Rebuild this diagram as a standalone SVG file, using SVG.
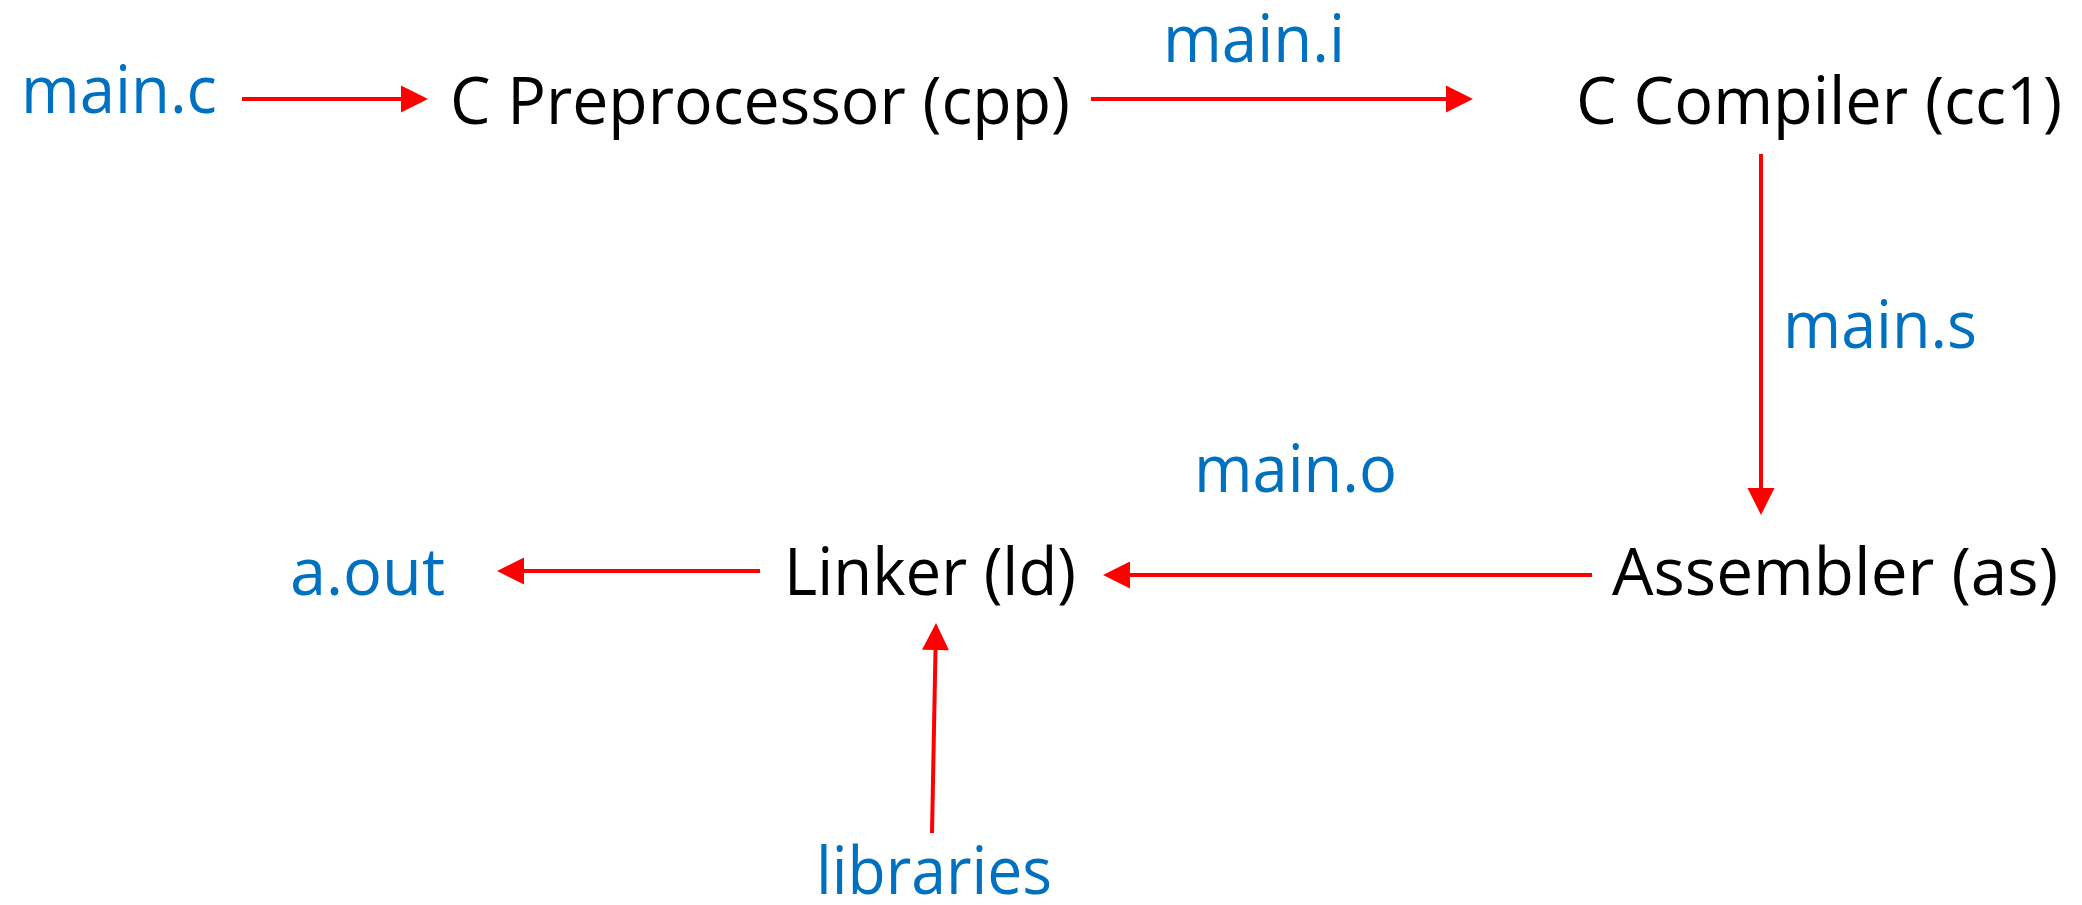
<svg xmlns="http://www.w3.org/2000/svg" width="2082" height="905" viewBox="0 0 2082 905">
<style>
text{font-family:"Open Sans","Liberation Sans",sans-serif;font-size:66px}
.lbl{fill:#0070C0}
.node{fill:#000}
.conn{stroke:#FF0000;stroke-width:4;fill:none;marker-end:url(#ah)}
</style>
<defs>
<marker id="ah" markerUnits="userSpaceOnUse" markerWidth="28" markerHeight="28" refX="0" refY="13.5" orient="auto" overflow="visible">
<path d="M0,0 L27,13.5 L0,27 Z" fill="#FF0000"/>
</marker>
</defs>
<rect width="2082" height="905" fill="#fff"/>
<g id="connectors">
<line class="conn" x1="242" y1="99" x2="401" y2="99"/>
<line class="conn" x1="1091" y1="99" x2="1446" y2="99"/>
<line class="conn" x1="1761" y1="154" x2="1761" y2="488"/>
<line class="conn" x1="1592" y1="575" x2="1130" y2="575"/>
<line class="conn" x1="760" y1="571" x2="524" y2="571"/>
<line class="conn" x1="932" y1="833" x2="935.5" y2="650"/>
</g>
<g id="main_c"><text class="lbl" x="21" y="113" textLength="196" lengthAdjust="spacingAndGlyphs">main.c</text></g>
<g id="cpp"><text class="node" x="450" y="124" textLength="620" lengthAdjust="spacingAndGlyphs">C Preprocessor (cpp)</text></g>
<g id="main_i"><text class="lbl" x="1163" y="62" textLength="182" lengthAdjust="spacingAndGlyphs">main.i</text></g>
<g id="cc1"><text class="node" x="1576" y="124" textLength="486" lengthAdjust="spacingAndGlyphs">C Compiler (cc1)</text></g>
<g id="main_s"><text class="lbl" x="1783" y="348" textLength="194" lengthAdjust="spacingAndGlyphs">main.s</text></g>
<g id="as"><text class="node" x="1612" y="595" textLength="446" lengthAdjust="spacingAndGlyphs">Assembler (as)</text></g>
<g id="main_o"><text class="lbl" x="1194" y="492" textLength="203" lengthAdjust="spacingAndGlyphs">main.o</text></g>
<g id="ld"><text class="node" x="784" y="595" textLength="292" lengthAdjust="spacingAndGlyphs">Linker (ld)</text></g>
<g id="a_out"><text class="lbl" x="290" y="595" textLength="155" lengthAdjust="spacingAndGlyphs">a.out</text></g>
<g id="libraries"><text class="lbl" x="816" y="894" textLength="236" lengthAdjust="spacingAndGlyphs">libraries</text></g>
</svg>
